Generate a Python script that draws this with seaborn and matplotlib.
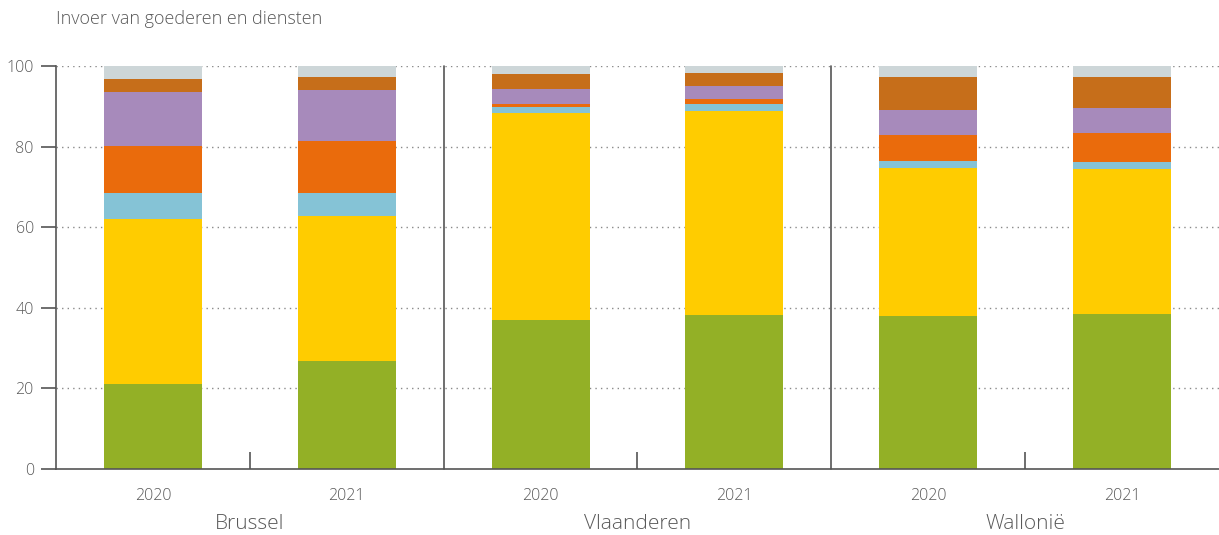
import numpy as np
import pandas as pd
import matplotlib
matplotlib.use("Agg")
import matplotlib.pyplot as plt
import seaborn as sns

# data (segment sizes, % of total imports)
regions = ["Brussel", "Vlaanderen", "Wallonië"]
years = ["2020", "2021"]
green = [21.1, 26.8, 37.0, 38.2, 38.0, 38.5]
yellow = [40.9, 36.1, 51.3, 50.6, 36.8, 35.9]
lightblue = [6.5, 5.6, 1.5, 1.8, 1.6, 1.8]
orange = [11.6, 12.9, 0.8, 1.2, 6.5, 7.2]
purple = [13.4, 12.6, 3.7, 3.2, 6.2, 6.2]
brown = [3.3, 3.3, 3.7, 3.3, 8.2, 7.7]
grey = [3.2, 2.7, 2.0, 1.7, 2.7, 2.7]

series = [green, yellow, lightblue, orange, purple, brown, grey]
colors = ["#93B026", "#FFCC00", "#85C3D6", "#EA6B0C", "#A78ABB", "#C66E1A", "#CDD6D8"]

sns.set_style("white")
plt.rcParams["font.family"] = ["Open Sans", "DejaVu Sans"]
plt.rcParams["font.weight"] = 300
txt = "#595959"

fig = plt.figure(figsize=(12.19, 5.35), dpi=100)
ax = fig.add_axes([56 / 1219, 66 / 535, 1 - 56 / 1219, 403 / 535])

slots = list(range(len(regions) * len(years)))
cum = np.cumsum(np.array(series), axis=0)

# grid first so bars cover it
for v in [20, 40, 60, 80, 100]:
    ax.axhline(v, color="#8a8a8a", lw=1.0, ls=(0, (1, 3)), zorder=0)

# stacked bars: draw cumulative totals from top layer down
for i in range(len(series) - 1, -1, -1):
    df = pd.DataFrame({"slot": slots, "val": cum[i]})
    sns.barplot(data=df, x="slot", y="val", color=colors[i], width=0.505,
                saturation=1, linewidth=0, ax=ax, zorder=2, errorbar=None)

ax.set_xlim(-0.5, 5.5)
ax.set_ylim(0, 100)
ax.set_xlabel("")
ax.set_ylabel("")

for s in ["top", "right"]:
    ax.spines[s].set_visible(False)
for s in ["left", "bottom"]:
    ax.spines[s].set_color("#555555")
    ax.spines[s].set_linewidth(1.2)

ax.set_yticks([0, 20, 40, 60, 80, 100])
ax.tick_params(axis="y", left=True, direction="out", length=11, width=1.2, color="#555555",
               labelsize=11.5, labelcolor=txt, pad=5)
ax.set_xticks(slots)
ax.set_xticklabels(years * len(regions))
ax.tick_params(axis="x", length=0, labelsize=11.5, labelcolor=txt, pad=14)

# small ticks between years, separators between regions
ax.set_xticks([0.5, 2.5, 4.5], minor=True)
ax.tick_params(axis="x", which="minor", bottom=True, direction="in", length=12,
               width=1.2, color="#555555")
for xs in [1.5, 3.5]:
    ax.plot([xs, xs], [0, 100], color="#555555", lw=1.2, zorder=3, clip_on=False)

for k, r in enumerate(regions):
    ax.text(2 * k + 0.5, -0.137, r, transform=ax.get_xaxis_transform(),
            ha="center", va="center", fontsize=15, color=txt)

fig.text(56 / 1219, 1 - 19 / 535, "Invoer van goederen en diensten",
         ha="left", va="center", fontsize=13, color=txt)

fig.savefig("out.png", dpi=100)
